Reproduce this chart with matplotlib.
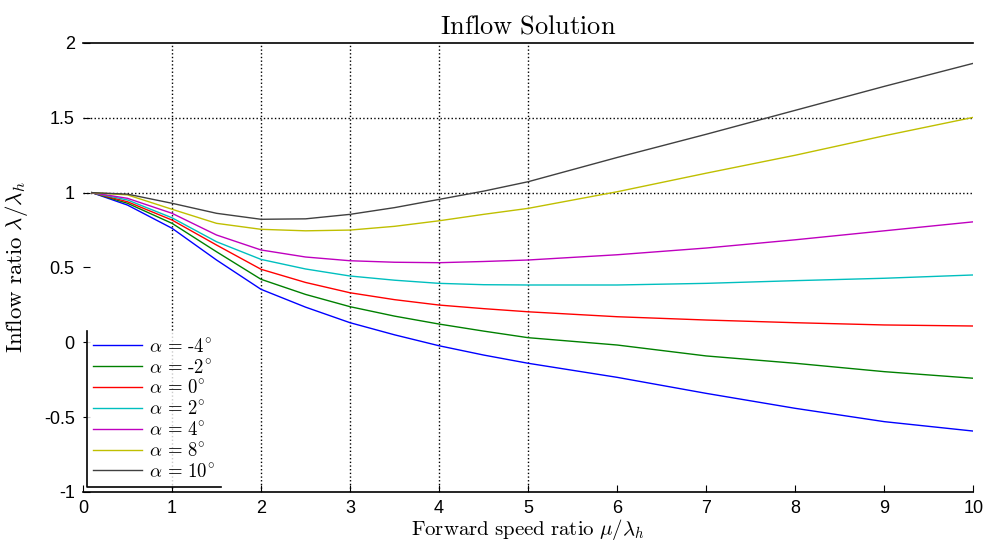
#!/usr/bin/env python3
import numpy as np
import matplotlib
matplotlib.use('Agg')
import matplotlib.pyplot as plt

# Forward speed ratio samples
mu = [0.1, 0.5, 1.0, 1.5, 2.0, 2.5, 3.0, 3.5, 4.0, 4.5, 5.0, 6.0, 7.0, 8.0, 9.0, 10.0]

# Inflow ratio for each angle of attack
lam_m4 = [1.0, 0.917, 0.762, 0.550, 0.354, 0.235, 0.131, 0.050, -0.023, -0.085, -0.140, -0.234, -0.341, -0.441, -0.530, -0.593]
lam_m2 = [1.0, 0.929, 0.795, 0.605, 0.421, 0.320, 0.238, 0.175, 0.122, 0.075, 0.031, -0.018, -0.091, -0.140, -0.196, -0.240]
lam_0 = [1.0, 0.939, 0.817, 0.650, 0.488, 0.400, 0.331, 0.285, 0.249, 0.225, 0.204, 0.171, 0.149, 0.131, 0.116, 0.109]
lam_2 = [1.0, 0.951, 0.832, 0.672, 0.554, 0.490, 0.443, 0.415, 0.394, 0.385, 0.383, 0.383, 0.394, 0.412, 0.428, 0.450]
lam_4 = [1.0, 0.962, 0.862, 0.717, 0.617, 0.570, 0.545, 0.535, 0.532, 0.540, 0.550, 0.585, 0.630, 0.685, 0.745, 0.805]
lam_8 = [1.0, 0.985, 0.889, 0.795, 0.755, 0.745, 0.750, 0.775, 0.812, 0.855, 0.895, 1.006, 1.130, 1.250, 1.380, 1.503]
lam_10 = [1.0, 0.990, 0.929, 0.862, 0.822, 0.825, 0.855, 0.900, 0.955, 1.010, 1.073, 1.235, 1.390, 1.550, 1.710, 1.864]

series = [lam_m4, lam_m2, lam_0, lam_2, lam_4, lam_8, lam_10]
labels = ['-4', '-2', '0', '2', '4', '8', '10']
colors = ['#0000ff', '#008000', '#ff0000', '#00bfbf', '#bf00bf', '#bfbf00', '#404040']

plt.rcParams['mathtext.fontset'] = 'cm'

fig = plt.figure(figsize=(9.89, 5.44), dpi=100)
ax = fig.add_axes([0.0839, 0.0956, 0.9002, 0.8254])

# Partial dotted grid as in the original
for xg in [1, 2, 3, 4, 5]:
    ax.axvline(xg, color='k', ls=':', lw=1.0, zorder=0)
for yg in [1.0, 1.5]:
    ax.axhline(yg, color='k', ls=':', lw=1.0, zorder=0)

for lam, lab, c in zip(series, labels, colors):
    ax.plot(mu, lam, color=c, lw=1.0, label=r'$\alpha\,=\,\text{%s}^{\circ}$' % lab)

ax.set_xlim(0, 10)
ax.set_ylim(-1, 2)
ax.set_xticks(np.arange(0, 11, 1))
ax.set_yticks([-1, -0.5, 0, 0.5, 1, 1.5, 2])
ax.set_yticklabels(['-1', '-0.5', '0', '0.5', '1', '1.5', '2'])
ax.tick_params(direction='in', length=5, labelsize=13, pad=6)
for lbl in ax.get_xticklabels() + ax.get_yticklabels():
    lbl.set_family('Liberation Sans')

ax.spines['left'].set_visible(False)
ax.spines['right'].set_visible(False)
ax.spines['top'].set_linewidth(1.2)
ax.spines['bottom'].set_linewidth(1.2)

ax.set_title(r'$\mathrm{Inflow\ Solution}$', fontsize=19, pad=7)
ax.set_xlabel(r'$\mathrm{Forward\ speed\ ratio}\ \mu/\lambda_h$', fontsize=15, labelpad=0)
ax.set_ylabel(r'$\mathrm{Inflow\ ratio}\ \lambda/\lambda_h$', fontsize=16.5, labelpad=10)

leg = ax.legend(loc='lower left', bbox_to_anchor=(0.005, 0.012), fontsize=13.5,
                frameon=True, fancybox=False, borderaxespad=0, handlelength=2.6,
                labelspacing=0.1, borderpad=0.3, handletextpad=0.4)
leg.get_frame().set_edgecolor('none')

# Only the left and bottom edges of the legend box show in the original
fig.canvas.draw()
bb = leg.get_window_extent().transformed(ax.transAxes.inverted())
ax.plot([bb.x0, bb.x0, bb.x1], [bb.y1, bb.y0, bb.y0], color='k', lw=1.2,
        transform=ax.transAxes, clip_on=False, zorder=6)

fig.savefig('out.png', dpi=100)
